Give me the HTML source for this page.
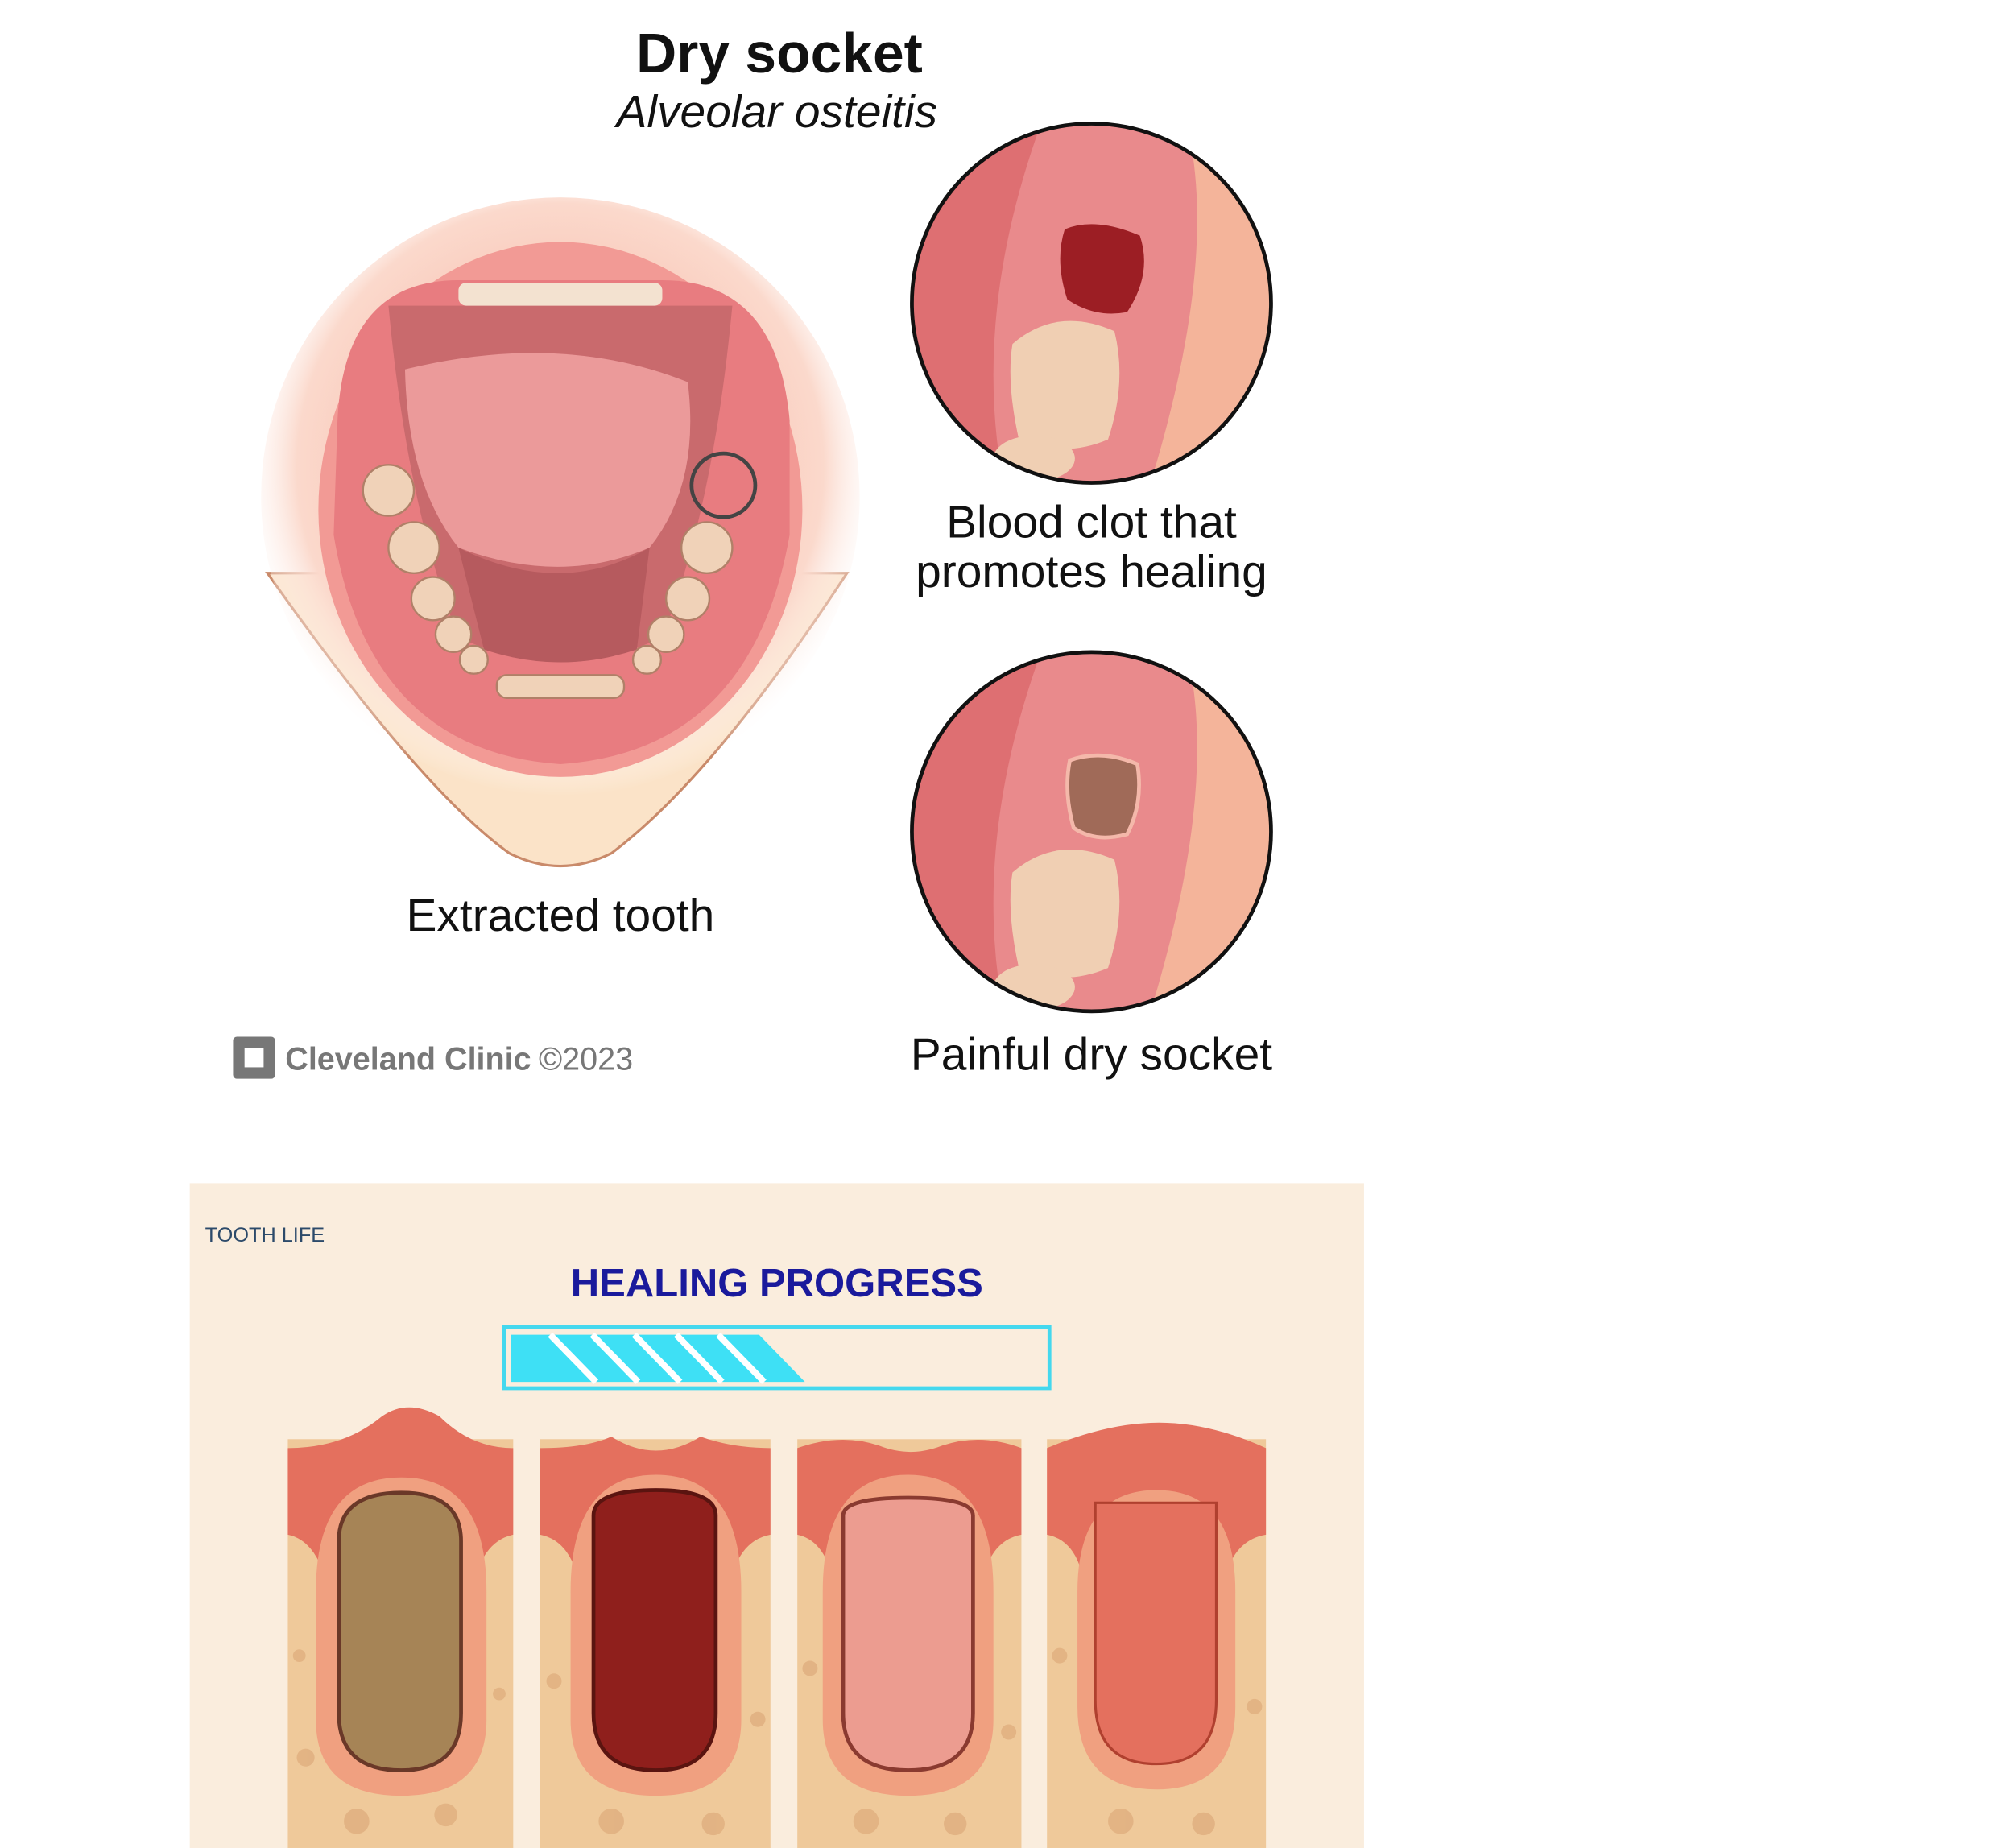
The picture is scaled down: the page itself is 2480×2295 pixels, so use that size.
<!DOCTYPE html>
<html><head><meta charset="utf-8"><style>
html,body{margin:0;padding:0;background:#fff;}
svg{display:block;}
text{font-family:"Liberation Sans",sans-serif;}
</style></head><body>
<svg width="2480" height="2295" viewBox="0 0 1568 1451" xmlns="http://www.w3.org/2000/svg">
<defs>
<radialGradient id="glow" cx="0.5" cy="0.45" r="0.55">
<stop offset="0" stop-color="#f6a896"/><stop offset="0.8" stop-color="#fbd9cc"/><stop offset="1" stop-color="#fff" stop-opacity="0"/></radialGradient>
<clipPath id="c1"><circle cx="857" cy="238" r="141"/></clipPath>
<clipPath id="c2"><circle cx="857" cy="653" r="141"/></clipPath>
</defs>
<rect width="1568" height="1451" fill="#fff"/>
<text x="612" y="57" font-size="44" font-weight="bold" text-anchor="middle" fill="#111">Dry socket</text>
<text x="610" y="100" font-size="36" font-style="italic" text-anchor="middle" fill="#111">Alveolar osteitis</text>

<path d="M210 450 Q330 620 400 670 Q440 690 480 670 Q560 610 665 450 Z" fill="#fbe3c8" stroke="#c98a6a" stroke-width="2"/>
<ellipse cx="440" cy="390" rx="235" ry="235" fill="url(#glow)"/>
<ellipse cx="440" cy="400" rx="190" ry="210" fill="#f29a95"/>
<path d="M265 330 Q270 220 360 220 L520 220 Q610 220 620 330 L620 420 Q590 590 440 600 Q290 590 262 420 Z" fill="#e87c80"/>
<path d="M305 240 L575 240 Q560 400 520 500 Q440 540 360 500 Q320 400 305 240Z" fill="#c96a6d"/>
<path d="M318 290 Q440 260 540 300 Q550 380 510 430 Q440 460 360 430 Q320 380 318 290Z" fill="#eb9a9a"/>
<path d="M360 430 Q440 470 510 430 L500 510 Q440 530 380 510Z" fill="#b65a5e"/>
<rect x="360" y="222" width="160" height="18" rx="6" fill="#f3e2d0"/>
<g fill="#f0d2b8" stroke="#b08068" stroke-width="1.5">
<circle cx="305" cy="385" r="20"/><circle cx="325" cy="430" r="20"/><circle cx="340" cy="470" r="17"/><circle cx="356" cy="498" r="14"/><circle cx="372" cy="518" r="11"/>
<circle cx="555" cy="430" r="20"/><circle cx="540" cy="470" r="17"/><circle cx="523" cy="498" r="14"/><circle cx="508" cy="518" r="11"/>
<rect x="390" y="530" width="100" height="18" rx="8"/>
</g>
<circle cx="568" cy="381" r="25" fill="none" stroke="#444" stroke-width="3"/>
<text x="440" y="731" font-size="36" text-anchor="middle" fill="#111">Extracted tooth</text>

<g clip-path="url(#c1)">
<rect x="700" y="90" width="320" height="300" fill="#f4b49a"/>
<path d="M700 90 L840 90 Q760 250 790 390 L700 390Z" fill="#de6f72"/>
<path d="M820 90 L930 90 Q960 200 900 390 L790 390 Q760 250 820 90Z" fill="#e98a8c"/>
<path d="M836 180 Q860 170 895 185 Q905 215 885 245 Q860 250 838 235 Q828 205 836 180Z" fill="#9c1e24"/>
<path d="M795 270 Q830 240 875 260 Q885 300 870 345 Q835 360 800 345 Q790 300 795 270Z" fill="#f0cfb3"/>
<ellipse cx="812" cy="360" rx="32" ry="18" fill="#f0cfb3"/>
</g>
<circle cx="857" cy="238" r="141" fill="none" stroke="#111" stroke-width="3"/>
<text x="857" y="422" font-size="36" text-anchor="middle" fill="#111">Blood clot that</text>
<text x="857" y="461" font-size="36" text-anchor="middle" fill="#111">promotes healing</text>

<g clip-path="url(#c2)">
<rect x="700" y="505" width="320" height="300" fill="#f4b49a"/>
<path d="M700 505 L840 505 Q760 665 790 805 L700 805Z" fill="#de6f72"/>
<path d="M820 505 L930 505 Q960 615 900 805 L790 805 Q760 665 820 505Z" fill="#e98a8c"/>
<path d="M840 597 Q865 588 893 600 Q898 630 885 655 Q860 662 843 650 Q835 622 840 597Z" fill="#a06a58" stroke="#f4b8aa" stroke-width="3"/>
<path d="M795 685 Q830 655 875 675 Q885 715 870 760 Q835 775 800 760 Q790 715 795 685Z" fill="#f0cfb3"/>
<ellipse cx="812" cy="775" rx="32" ry="18" fill="#f0cfb3"/>
</g>
<circle cx="857" cy="653" r="141" fill="none" stroke="#111" stroke-width="3"/>
<text x="857" y="840" font-size="36" text-anchor="middle" fill="#111">Painful dry socket</text>

<rect x="183" y="814" width="33" height="33" rx="3" fill="#777"/>
<rect x="192" y="823" width="15" height="15" fill="#fff"/>
<text x="224" y="840" font-size="25" font-weight="bold" fill="#777">Cleveland Clinic</text>
<text x="423" y="840" font-size="25" fill="#777">©2023</text>

<rect x="149" y="929" width="922" height="522" fill="#faeddd"/>
<text x="161" y="975" font-size="16" fill="#2c4a6a">TOOTH LIFE</text>
<text x="610" y="1018" font-size="31" font-weight="bold" text-anchor="middle" fill="#1a1a9c">HEALING PROGRESS</text>
<rect x="396" y="1042" width="428" height="48" fill="#faeddd" stroke="#44d8ee" stroke-width="3"/>
<polygon points="401,1048 596,1048 632,1085 401,1085" fill="#3ee0f5"/>
<g stroke="#fff" stroke-width="5"><line x1="432" y1="1048" x2="468" y2="1085"/><line x1="465" y1="1048" x2="501" y2="1085"/><line x1="498" y1="1048" x2="534" y2="1085"/><line x1="531" y1="1048" x2="567" y2="1085"/><line x1="564" y1="1048" x2="600" y2="1085"/></g>

<!-- panel 1 -->
<rect x="226" y="1130" width="177" height="321" fill="#efc99a"/>
<path d="M226 1137 Q270 1137 300 1112 Q320 1098 345 1112 Q370 1137 403 1137 L403 1205 Q378 1210 370 1250 L258 1250 Q250 1210 226 1205Z" fill="#e4705e"/>
<path d="M248 1250 Q248 1160 315 1160 Q382 1160 382 1250 L382 1350 Q382 1410 315 1410 Q248 1410 248 1350Z" fill="#f0a080"/>
<path d="M266 1210 Q266 1172 315 1172 Q362 1172 362 1210 L362 1345 Q362 1390 315 1390 Q266 1390 266 1345Z" fill="#a68456" stroke="#6a3828" stroke-width="3"/>
<!-- panel 2 -->
<rect x="424" y="1130" width="181" height="321" fill="#efc99a"/>
<path d="M424 1137 Q460 1137 480 1128 Q515 1150 550 1128 Q575 1137 605 1137 L605 1205 Q578 1210 572 1250 L456 1250 Q450 1210 424 1205Z" fill="#e4705e"/>
<path d="M448 1250 Q448 1158 515 1158 Q582 1158 582 1250 L582 1350 Q582 1410 515 1410 Q448 1410 448 1350Z" fill="#f0a080"/>
<path d="M466 1190 Q466 1170 515 1170 Q562 1170 562 1190 L562 1345 Q562 1390 515 1390 Q466 1390 466 1345Z" fill="#8f1f1c" stroke="#5a1410" stroke-width="3"/>
<!-- panel 3 -->
<rect x="626" y="1130" width="176" height="321" fill="#efc99a"/>
<path d="M626 1137 Q660 1125 690 1135 Q715 1145 740 1135 Q770 1125 802 1137 L802 1205 Q775 1210 770 1250 L656 1250 Q650 1210 626 1205Z" fill="#e4705e"/>
<path d="M646 1250 Q646 1158 713 1158 Q780 1158 780 1250 L780 1350 Q780 1410 713 1410 Q646 1410 646 1350Z" fill="#f0a080"/>
<path d="M662 1190 Q662 1176 713 1176 Q764 1176 764 1190 L764 1345 Q764 1390 713 1390 Q662 1390 662 1345Z" fill="#ec9c90" stroke="#8a3a30" stroke-width="3"/>
<!-- panel 4 -->
<rect x="822" y="1130" width="172" height="321" fill="#efc99a"/>
<path d="M822 1137 Q870 1117 910 1117 Q950 1117 994 1137 L994 1205 Q965 1210 960 1250 L852 1250 Q848 1210 822 1205Z" fill="#e4705e"/>
<path d="M846 1250 Q846 1170 908 1170 Q970 1170 970 1250 L970 1340 Q970 1405 908 1405 Q846 1405 846 1340Z" fill="#f0a080"/>
<path d="M860 1180 L955 1180 L955 1335 Q955 1385 908 1385 Q860 1385 860 1335Z" fill="#e4705e" stroke="#b0402f" stroke-width="2"/>
<g fill="#dba676" opacity="0.6">
<circle cx="235" cy="1300" r="5"/><circle cx="240" cy="1380" r="7"/><circle cx="392" cy="1330" r="5"/><circle cx="280" cy="1430" r="10"/><circle cx="350" cy="1425" r="9"/>
<circle cx="435" cy="1320" r="6"/><circle cx="595" cy="1350" r="6"/><circle cx="480" cy="1430" r="10"/><circle cx="560" cy="1432" r="9"/>
<circle cx="636" cy="1310" r="6"/><circle cx="792" cy="1360" r="6"/><circle cx="680" cy="1430" r="10"/><circle cx="750" cy="1432" r="9"/>
<circle cx="832" cy="1300" r="6"/><circle cx="985" cy="1340" r="6"/><circle cx="880" cy="1430" r="10"/><circle cx="945" cy="1432" r="9"/>
</g>
<rect x="403" y="1100" width="21" height="351" fill="#faeddd"/>
<rect x="605" y="1100" width="21" height="351" fill="#faeddd"/>
<rect x="802" y="1100" width="20" height="351" fill="#faeddd"/>
</svg>
</body></html>
